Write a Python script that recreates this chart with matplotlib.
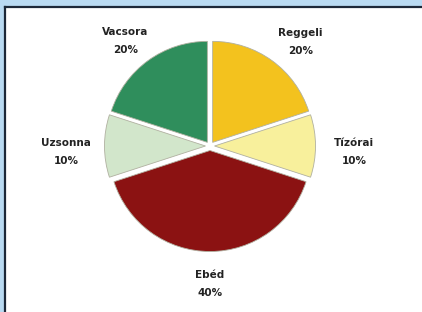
import matplotlib.pyplot as plt
from matplotlib.patches import Rectangle
from matplotlib.lines import Line2D

names = ['Reggeli', 'Tízórai', 'Ebéd', 'Uzsonna', 'Vacsora']
shares = [20, 10, 40, 10, 20]
colors = ['#f3c21e', '#f8f09c', '#8b1212', '#d2e6cb', '#2f8e5c']

W, H = 422, 312
fig = plt.figure(figsize=(W / 100, H / 100), dpi=100, facecolor='#b9daf2')

# white panel with dark top/left border
fig.patches.append(Rectangle((5 / W, -0.05), 1.0, (H - 7) / H + 0.05,
                             transform=fig.transFigure, facecolor='white',
                             edgecolor='none', zorder=-2))
fig.lines.append(Line2D([5 / W, 5 / W], [0, (H - 7) / H], transform=fig.transFigure,
                        color='#1c2838', lw=1.6, zorder=-1))
fig.lines.append(Line2D([5 / W, 1], [(H - 7) / H, (H - 7) / H], transform=fig.transFigure,
                        color='#1c2838', lw=1.6, zorder=-1))

cx, cy, half = 210, H - 146, 150
ax = fig.add_axes([(cx - half) / W, (cy - half) / H, 2 * half / W, 2 * half / H])
ax.set_zorder(1)
ax.set_facecolor('none')

labels = [f'{n}\n{v}%' for n, v in zip(names, shares)]
wedges, texts = ax.pie(shares, labels=labels, colors=colors, startangle=90,
                       counterclock=False, radius=1.01, explode=[0.045] * 5,
                       labeldistance=1.38,
                       wedgeprops=dict(edgecolor='#b0b0a0', linewidth=0.6),
                       textprops=dict(fontsize=7.5, fontweight='bold',
                                      color='#222222', ha='center', va='center',
                                      linespacing=2.0))
# small nudges of the label positions
nudge = [(0.06, -0.12), (0.0, -0.06), (0.0, 0.06), (0.0, -0.06), (0.0, -0.11)]
for t, (dx, dy) in zip(texts, nudge):
    t.set_ha('center')
    x, y = t.get_position()
    t.set_position((x + dx, y + dy))
ax.set_xlim(-1.5, 1.5)
ax.set_ylim(-1.5, 1.5)
ax.axis('off')

fig.savefig('out.png', dpi=100, facecolor=fig.get_facecolor())
